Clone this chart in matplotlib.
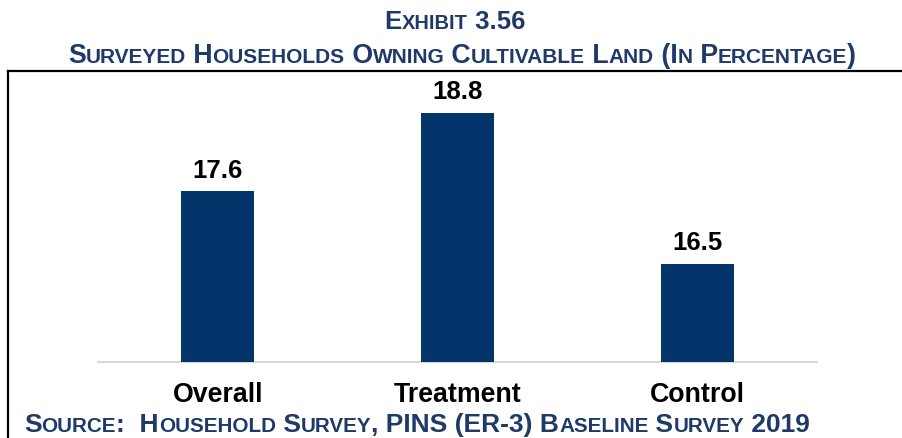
import matplotlib
matplotlib.use('Agg')
import matplotlib.pyplot as plt
from matplotlib.lines import Line2D
from matplotlib.offsetbox import TextArea, HPacker, AnchoredOffsetbox

plt.rcParams['font.family'] = ['Liberation Sans', 'DejaVu Sans']

# data
categories = ['Overall', 'Treatment', 'Control']
values = [17.6, 18.8, 16.5]

title_top = 'Exhibit 3.56'
title_main = 'Surveyed Households Owning Cultivable Land (In Percentage)'
source_text = 'Source:  Household Survey, PINS (ER-3) Baseline Survey 2019'

BAR = '#03346a'
NAVY = '#1f3a68'

fig = plt.figure(figsize=(9.03, 4.39), dpi=100)
W, H = 903, 439


def smallcaps(fig, s, x, y, size, loc='center', ratio=0.78, color=NAVY):
    """Word-style small caps: lowercase letters drawn as smaller capitals."""
    runs = []
    for ch in s:
        small = ch.islower()
        if runs and runs[-1][1] == small:
            runs[-1][0] += ch.upper()
        else:
            runs.append([ch.upper(), small])
    kids = [TextArea(t, textprops=dict(fontsize=size * ratio if sm else size,
                                       fontweight='bold', color=color))
            for t, sm in runs]
    pack = HPacker(children=kids, align='baseline', pad=0, sep=0)
    box = AnchoredOffsetbox(loc=loc, child=pack, bbox_to_anchor=(x / W, 1 - y / H),
                            bbox_transform=fig.transFigure, frameon=False,
                            pad=0, borderpad=0)
    fig.add_artist(box)


ax = fig.add_axes([98 / W, 1 - 363 / H, (817 - 98) / W, (363 - 81) / H])
x = range(len(categories))
bars = ax.bar(x, values, width=0.305, color=BAR, zorder=3)
ax.set_xlim(-0.5, len(categories) - 0.5)
ax.set_ylim(15, 19.3)

for b, v in zip(bars, values):
    ax.annotate(f'{v:.1f}', (b.get_x() + b.get_width() / 2, v),
                xytext=(0, 7), textcoords='offset points',
                ha='center', va='bottom', fontsize=18.5, fontweight='bold')

ax.set_xticks(list(x))
ax.set_xticklabels(categories, fontsize=19.3, fontweight='bold')
ax.tick_params(axis='x', length=0, pad=14)
ax.set_yticks([])
for side in ['top', 'right', 'left']:
    ax.spines[side].set_visible(False)
ax.spines['bottom'].set_color('#d9d9d9')
ax.spines['bottom'].set_linewidth(1.5)

# frame around the chart body
fig.add_artist(Line2D([8 / W, 1.0], [1 - 72 / H, 1 - 72 / H], transform=fig.transFigure,
                      color='black', lw=1.6))
fig.add_artist(Line2D([8 / W, 8 / W], [1 - 72 / H, 0.0], transform=fig.transFigure,
                      color='black', lw=1.6))

smallcaps(fig, title_top, 455, 22, 18.5)
smallcaps(fig, title_main, 462, 56, 19.3)
smallcaps(fig, source_text, 24, 425, 19, loc='center left')

fig.savefig('out.png', dpi=100)
